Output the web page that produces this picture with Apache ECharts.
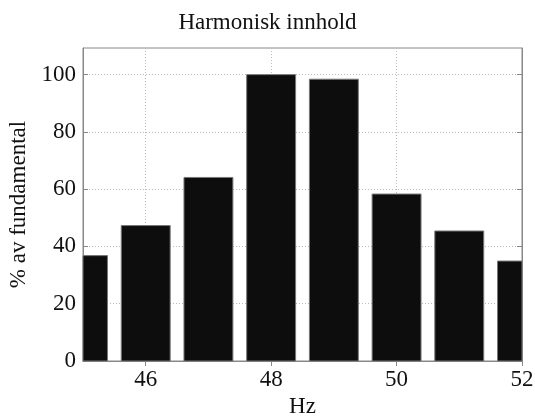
<!DOCTYPE html>
<html>
<head>
<meta charset="utf-8">
<script src="https://cdn.jsdelivr.net/npm/echarts@6/dist/echarts.min.js"></script>
<style>html,body{margin:0;padding:0;background:#fff}#c{width:535px;height:416px}</style>
</head>
<body>
<div id="c"></div>
<script>
const titleText = "Harmonisk innhold";
const xName = "Hz";
const yName = "% av fundamental";
const freqs = [45, 46, 47, 48, 49, 50, 51, 52];
const values = [36.8, 47.3, 64.1, 100, 98.4, 58.3, 45.4, 34.9];
const xTicks = [46, 48, 50, 52];
const yTicks = [0, 20, 40, 60, 80, 100];
const barFraction = 0.78;

const font = "Liberation Serif";
const fs = 23;
const chart = echarts.init(document.getElementById('c'));
const xBase = {
  type: 'value', min: 45, max: 52,
  axisLine: {lineStyle: {color: '#888', width: 1}},
  axisTick: {inside: true, length: 5, customValues: xTicks, lineStyle: {color: '#888'}},
  axisLabel: {customValues: xTicks, color: '#111', fontFamily: font, fontSize: fs, margin: 7},
};
const yBase = {
  type: 'value', min: 0, max: 109.3,
  axisLine: {show: true, lineStyle: {color: '#888', width: 1}},
  axisTick: {inside: true, length: 5, customValues: yTicks, lineStyle: {color: '#888'}},
  axisLabel: {customValues: yTicks, color: '#111', fontFamily: font, fontSize: fs, margin: 7},
};
chart.setOption({
  animation: false,
  title: {text: titleText, left: 'center', top: 6,
    textStyle: {fontFamily: font, fontSize: fs, fontWeight: 'normal', color: '#111'}},
  grid: {left: 83, right: 13, top: 48, bottom: 55, show: true, borderColor: '#888', borderWidth: 1,
    outerBoundsMode: 'none', containLabel: false},
  xAxis: [
    Object.assign({}, xBase, {
      position: 'bottom', name: xName, nameLocation: 'middle', nameGap: 29,
      nameTextStyle: {fontFamily: font, fontSize: fs, color: '#111'},
      splitLine: {show: true, customValues: xTicks, lineStyle: {color: '#bbb', type: [1, 2], width: 1}}
    }),
    Object.assign({}, xBase, {
      position: 'top', axisLabel: {show: false}, splitLine: {show: false}
    })
  ],
  yAxis: [
    Object.assign({}, yBase, {
      position: 'left', name: yName, nameLocation: 'middle', nameGap: 53,
      nameTextStyle: {fontFamily: font, fontSize: fs, color: '#111'},
      splitLine: {show: true, customValues: yTicks, lineStyle: {color: '#bbb', type: [1, 2], width: 1}}
    }),
    Object.assign({}, yBase, {
      position: 'right', axisLabel: {show: false}, splitLine: {show: false}
    })
  ],
  series: [{
    type: 'custom',
    data: freqs.map((f, i) => [f, values[i]]),
    encode: {x: 0, y: 1},
    renderItem: function (params, api) {
      const x = api.value(0), y = api.value(1);
      const base = api.coord([x, 0]);
      const top = api.coord([x, y]);
      const w = api.size([barFraction, 0])[0];
      const cs = params.coordSys;
      const rect = echarts.graphic.clipRectByRect(
        {x: base[0] - w / 2, y: top[1], width: w, height: base[1] - top[1]},
        {x: cs.x, y: cs.y, width: cs.width, height: cs.height}
      );
      if (!rect) return null;
      return {type: 'rect', shape: rect,
        style: {fill: '#0d0d0d', stroke: '#777', lineWidth: 1}};
    }
  }]
});
</script>
</body>
</html>
